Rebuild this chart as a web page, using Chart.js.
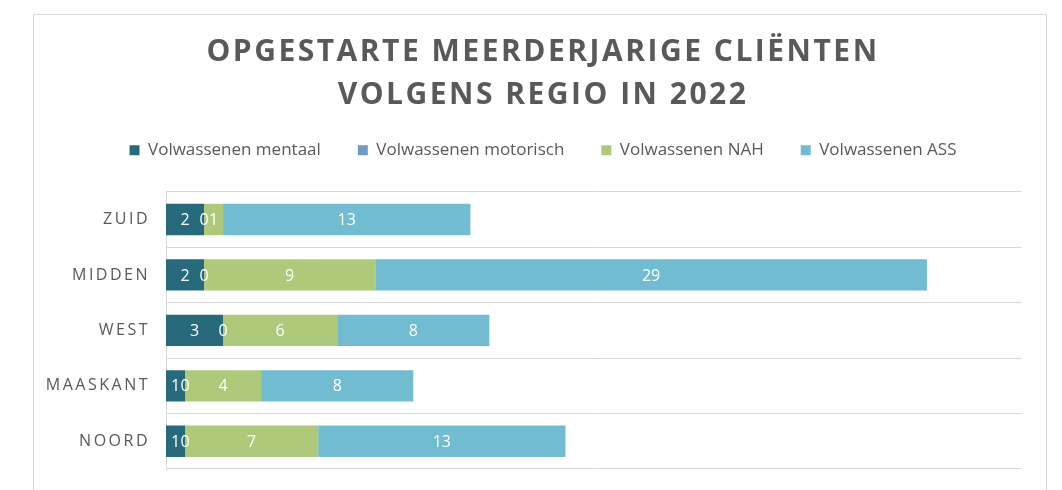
<!DOCTYPE html>
<html>
<head>
<meta charset="utf-8">
<script src="https://cdn.jsdelivr.net/npm/chart.js@4/dist/chart.umd.min.js"></script>
<style>
  html, body { margin: 0; padding: 0; background: #fff; }
  #wrap { position: relative; width: 1062px; height: 490px; }
</style>
</head>
<body>
<div id="wrap"><canvas id="regioChart"></canvas></div>
<script>
'use strict';

const regions = ['ZUID', 'MIDDEN', 'WEST', 'MAASKANT', 'NOORD'];
const seriesNames = ['Volwassenen mentaal', 'Volwassenen motorisch', 'Volwassenen NAH', 'Volwassenen ASS'];
const mentaal = [2, 2, 3, 1, 1];
const motorisch = [0, 0, 0, 0, 0];
const nah = [1, 9, 6, 4, 7];
const ass = [13, 29, 8, 8, 13];
const seriesColors = ['#276a7c', '#7399c6', '#afc97b', '#71bcd1'];

const textGray = '#595959';
const lineGray = '#d9d9d9';
const labelGap = 16;

// frame round the whole chart, like the Excel chart border
const framePlugin = {
    id: 'frame',
    beforeDraw(chart) {
        const ctx = chart.ctx;
        ctx.save();
        ctx.strokeStyle = lineGray;
        ctx.lineWidth = 1;
        ctx.strokeRect(33.5, 14.5, 1013, 520);
        ctx.restore();
    }
};

// letter spacing for title and category labels
const spacingPlugin = {
    id: 'spacing',
    afterLayout(chart) {
        const title = chart.titleBlock;
        if (title && !title._spaced) {
            const orig = title.draw;
            title.draw = function (area) {
                const c = this.ctx;
                c.save();
                c.letterSpacing = '2.5px';
                orig.call(this, area);
                c.restore();
            };
            title._spaced = true;
        }
        const y = chart.scales.y;
        if (y && !y._spaced) {
            const origLabels = y.drawLabels;
            y._computeLabelArea = function () { return undefined; };
            y.drawLabels = function (area) {
                const c = this.ctx;
                c.save();
                c.letterSpacing = '2.5px';
                c.translate(-labelGap, 0);
                origLabels.call(this, area);
                c.restore();
            };
            y._spaced = true;
        }
    }
};

// values in the middle of every segment, zeros too
const valueLabels = {
    id: 'valueLabels',
    afterDatasetsDraw(chart) {
        const ctx = chart.ctx;
        ctx.save();
        ctx.font = '16px "Open Sans"';
        ctx.fillStyle = '#ffffff';
        ctx.textAlign = 'center';
        ctx.textBaseline = 'middle';
        chart.data.datasets.forEach(function (ds, i) {
            const meta = chart.getDatasetMeta(i);
            if (meta.hidden) return;
            meta.data.forEach(function (bar, j) {
                const cx = (bar.x + bar.base) / 2;
                ctx.fillText(String(ds.data[j]), cx, bar.y + 1);
            });
        });
        ctx.restore();
    }
};

const datasets = [mentaal, motorisch, nah, ass].map(function (values, i) {
    return {
        label: seriesNames[i],
        data: values,
        backgroundColor: seriesColors[i],
        borderWidth: 0,
        barPercentage: 0.565,
        categoryPercentage: 1
    };
});

new Chart('regioChart', {
    type: 'bar',
    data: {
        labels: regions,
        datasets: datasets
    },
    options: {
        indexAxis: 'y',
        responsive: true,
        maintainAspectRatio: false,
        animation: false,
        layout: {
            padding: { top: 0, right: 40, bottom: 21, left: 64 }
        },
        plugins: {
            title: {
                display: true,
                text: ['OPGESTARTE MEERDERJARIGE CLIËNTEN', 'VOLGENS REGIO IN 2022'],
                color: textGray,
                font: { family: '"Open Sans"', size: 30, weight: 'bold', lineHeight: 1.43 },
                padding: { top: 31, bottom: -12 }
            },
            legend: {
                position: 'top',
                labels: {
                    color: textGray,
                    font: { family: '"Open Sans"', size: 17 },
                    boxWidth: 10,
                    boxHeight: 10,
                    padding: 37
                }
            },
            tooltip: { enabled: false }
        },
        scales: {
            x: {
                stacked: true,
                position: 'top',
                min: 0,
                max: 45,
                grid: { display: false },
                border: { display: false },
                ticks: { display: false },
                afterFit: function (scale) { scale.height = 23; }
            },
            y: {
                stacked: true,
                grid: { color: lineGray, drawTicks: false, offset: true },
                border: { color: lineGray },
                ticks: {
                    color: textGray,
                    padding: 0,
                    font: { family: '"Open Sans"', size: 16 }
                },
                afterFit: function (scale) { scale.width = 102; }
            }
        }
    },
    plugins: [framePlugin, spacingPlugin, valueLabels]
});
</script>
</body>
</html>
